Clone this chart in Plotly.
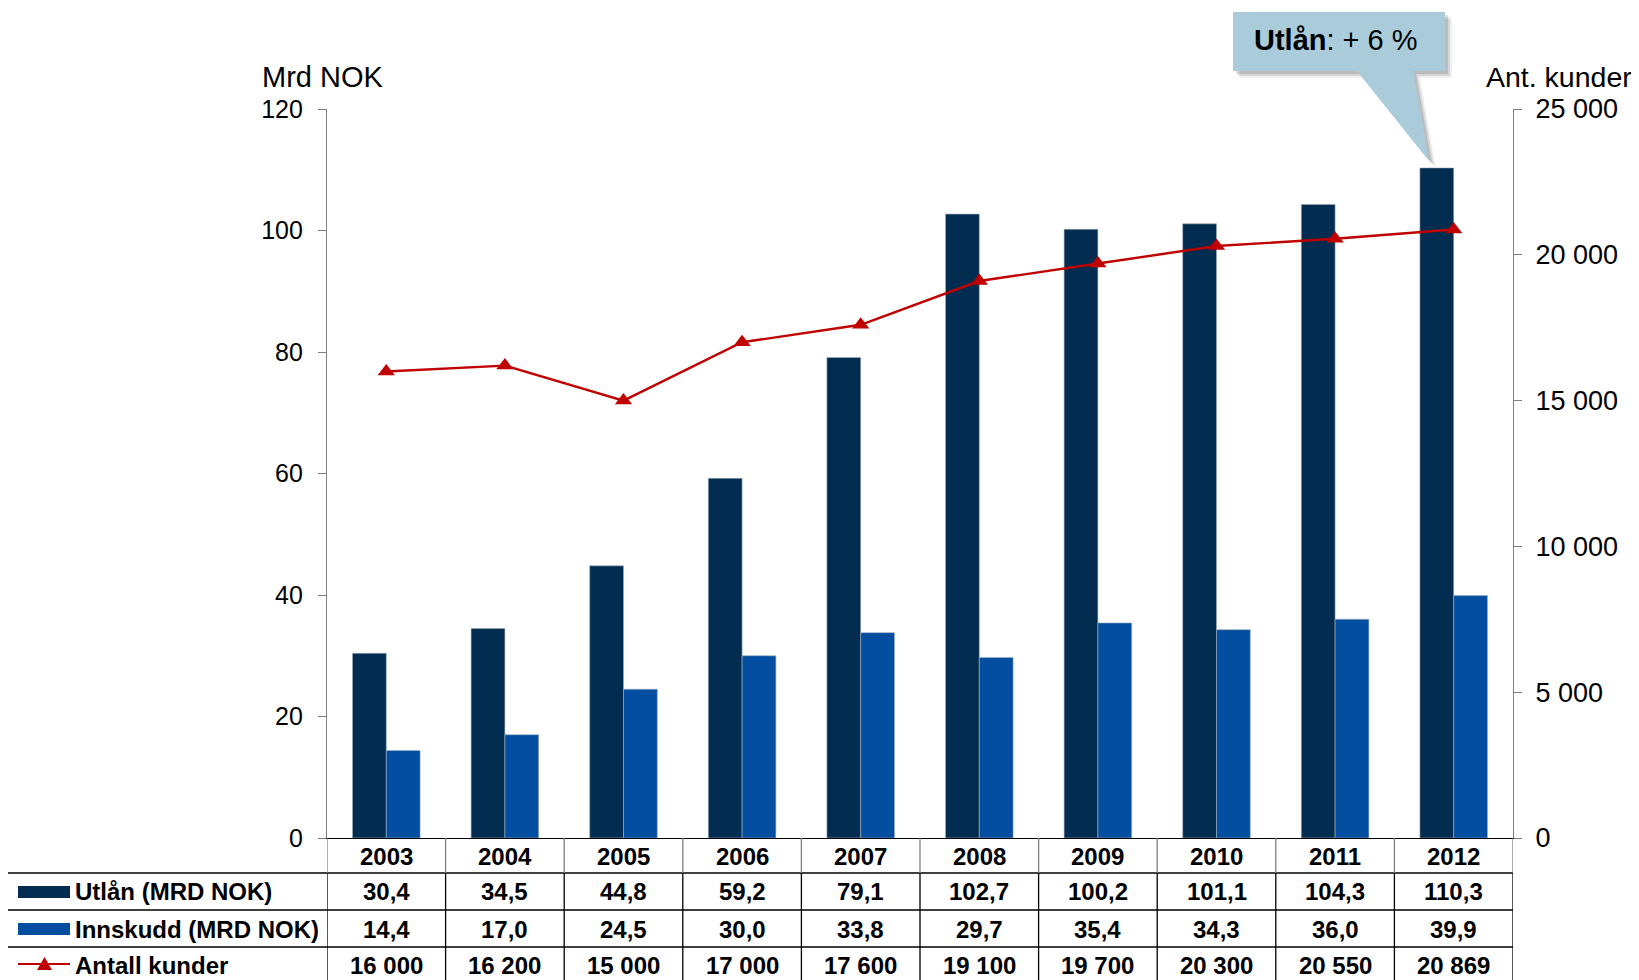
import plotly.graph_objects as go

years = ['2003', '2004', '2005', '2006', '2007', '2008', '2009', '2010', '2011', '2012']
utlan = [30.4, 34.5, 44.8, 59.2, 79.1, 102.7, 100.2, 101.1, 104.3, 110.3]
innskudd = [14.4, 17.0, 24.5, 30.0, 33.8, 29.7, 35.4, 34.3, 36.0, 39.9]
kunder = [16000, 16200, 15000, 17000, 17600, 19100, 19700, 20300, 20550, 20869]

row_labels = ['Utlån (MRD NOK)', 'Innskudd (MRD NOK)', 'Antall kunder']
left_title = 'Mrd NOK'
right_title = 'Ant. kunder'
callout_text = '<b>Utlån</b>: + 6 %'

C_UTLAN = '#022D51'
C_INNSKUDD = '#034EA0'
C_RED = '#C00000'
FONT = 'Liberation Sans, Arial, sans-serif'

OFF = 8                      # default body margin of the html page
W, H = 1639 - OFF, 980 - OFF
L, R, T, B = 327, 1513, 109, 838   # plot area in page pixels


def px(x):
    return (x - L) / (R - L)


def py(y):
    return (B - y) / (B - T)


def fmt_mrd(v):
    return f'{v:.1f}'.replace('.', ',')


def fmt_int(v):
    return f'{v:,}'.replace(',', ' ')


fig = go.Figure()
fig.add_trace(go.Bar(x=years, y=utlan, name=row_labels[0], marker_color=C_UTLAN,
                     marker_line=dict(width=0.6, color='#9FB0C0')))
fig.add_trace(go.Bar(x=years, y=innskudd, name=row_labels[1], marker_color=C_INNSKUDD,
                     marker_line=dict(width=0.6, color='#9FB0C0')))
fig.add_trace(go.Scatter(x=years, y=kunder, name=row_labels[2], yaxis='y2',
                         mode='lines+markers', line=dict(color=C_RED, width=2.4),
                         marker=dict(symbol='triangle-up', size=15, color=C_RED)))

axis_common = dict(showgrid=False, zeroline=False, showline=True, linecolor='#808080',
                   linewidth=1.3, tickcolor='#808080', tickwidth=1.3, ticklen=8)

shapes = []
annotations = []

# table grid
for y in (873, 910, 947):
    shapes.append(dict(type='line', xref='paper', yref='paper', x0=px(7), x1=px(R),
                       y0=py(y), y1=py(y), line=dict(color='#000', width=1.3)))
shapes.append(dict(type='line', xref='paper', yref='paper', x0=px(7), x1=px(7),
                   y0=py(873), y1=py(995), line=dict(color='#000', width=1.3)))
for i in range(len(years) + 1):
    shapes.append(dict(type='line', xref='x', yref='paper', x0=i - 0.5, x1=i - 0.5,
                       y0=py(838), y1=py(873), line=dict(color='#808080', width=1.3)))
    shapes.append(dict(type='line', xref='x', yref='paper', x0=i - 0.5, x1=i - 0.5,
                       y0=py(873), y1=py(995), line=dict(color='#000', width=1.3)))

# table text
rows = [years,
        [fmt_mrd(v) for v in utlan],
        [fmt_mrd(v) for v in innskudd],
        [fmt_int(v) for v in kunder]]
row_centers = [856, 892, 929, 965]
for texts, yc in zip(rows, row_centers):
    for i, t in enumerate(texts):
        annotations.append(dict(x=i, xref='x', y=py(yc), yref='paper', text=f'<b>{t}</b>',
                                showarrow=False, font=dict(family=FONT, size=24, color='#000'),
                                xanchor='center', yanchor='middle'))

for lab, yc in zip(row_labels, row_centers[1:]):
    annotations.append(dict(x=px(73), xref='paper', y=py(yc), yref='paper', text=f'<b>{lab}</b>',
                            showarrow=False, font=dict(family=FONT, size=24, color='#000'),
                            xanchor='left', yanchor='middle'))

# legend glyphs
for col, yc in [(C_UTLAN, row_centers[1]), (C_INNSKUDD, row_centers[2])]:
    shapes.append(dict(type='rect', xref='paper', yref='paper', x0=px(18), x1=px(70),
                       y0=py(yc - 6), y1=py(yc + 6), fillcolor=col, line=dict(width=0)))
yl = row_centers[3] - 1
shapes.append(dict(type='line', xref='paper', yref='paper', x0=px(18), x1=px(70),
                   y0=py(yl), y1=py(yl), line=dict(color=C_RED, width=2)))
shapes.append(dict(type='path', xref='paper', yref='paper',
                   path=f'M {px(37)},{py(yl + 6)} L {px(52)},{py(yl + 6)} L {px(44.5)},{py(yl - 7)} Z',
                   fillcolor=C_RED, line=dict(width=0)))


# callout
def bubble(dx, dy):
    pts = [(1233, 12), (1445, 12), (1445, 71), (1413, 71), (1429, 161), (1357, 71), (1233, 71)]
    d = ' '.join(('M' if k == 0 else 'L') + f' {px(x + dx)},{py(y + dy)}' for k, (x, y) in enumerate(pts))
    return d + ' Z'


for s, a in [(7, 0.06), (5, 0.1), (3, 0.12)]:
    shapes.append(dict(type='path', xref='paper', yref='paper', path=bubble(s, s),
                       fillcolor=f'rgba(0,0,0,{a})', line=dict(width=0), layer='above'))
shapes.append(dict(type='path', xref='paper', yref='paper', path=bubble(0, 0),
                   fillcolor='#AACCDA', line=dict(width=0), layer='above'))
annotations.append(dict(x=px(1336), xref='paper', y=py(40), yref='paper', text=callout_text,
                        showarrow=False, font=dict(family=FONT, size=29, color='#000'),
                        xanchor='center', yanchor='middle'))

# axis titles
annotations.append(dict(x=px(260), xref='paper', y=py(77), yref='paper', text=left_title,
                        showarrow=False, font=dict(family=FONT, size=29, color='#000'),
                        xanchor='left', yanchor='middle'))
annotations.append(dict(x=px(1484), xref='paper', y=py(77), yref='paper', text=right_title,
                        showarrow=False, font=dict(family=FONT, size=28.5, color='#000'),
                        xanchor='left', yanchor='middle'))

fig.update_layout(
    width=W, height=H,
    margin=dict(l=L - OFF, r=W - (R - OFF), t=T - OFF, b=H - (B - OFF), pad=0),
    paper_bgcolor='white', plot_bgcolor='white',
    separators=', ',
    showlegend=False,
    barmode='group', bargap=0.43, bargroupgap=0,
    xaxis=dict(type='category', range=[-0.5, 9.5], showticklabels=False, ticks='',
               showgrid=False, zeroline=False, showline=True, linecolor='#000', linewidth=1.3),
    yaxis=dict(range=[0, 120], dtick=20, ticks='outside', ticklabelstandoff=10,
               tickfont=dict(family=FONT, size=25, color='#000'), **axis_common),
    yaxis2=dict(range=[0, 25000], dtick=5000, ticks='outside', overlaying='y', side='right',
                tickformat=',d', ticklabelstandoff=8,
                tickfont=dict(family=FONT, size=27, color='#000'), **axis_common),
    yaxis3=dict(range=[0, 120], dtick=20, ticks='inside', overlaying='y', side='left',
                showticklabels=False, showgrid=False, zeroline=False, showline=False,
                tickcolor='#808080', tickwidth=1.3, ticklen=8),
    yaxis4=dict(range=[0, 25000], dtick=5000, ticks='inside', overlaying='y', side='right',
                showticklabels=False, showgrid=False, zeroline=False, showline=False,
                tickcolor='#808080', tickwidth=1.3, ticklen=8),
    shapes=shapes,
    annotations=annotations,
)

fig.write_html('out.html')
